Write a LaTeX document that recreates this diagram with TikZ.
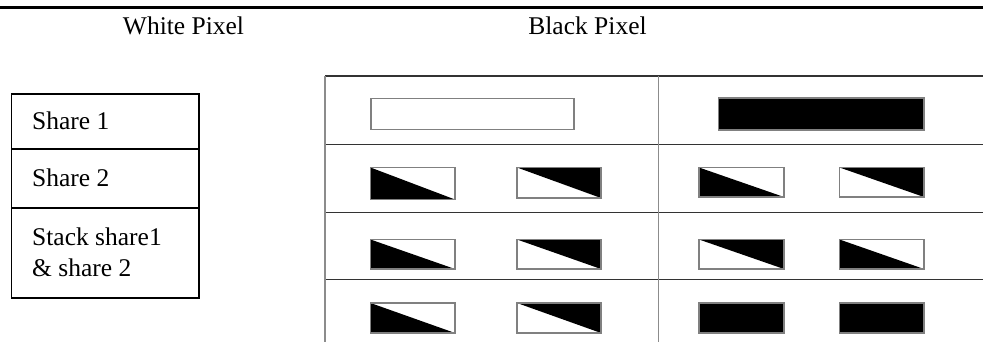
\documentclass[tikz,border=0pt]{standalone}
\usepackage{fontspec}
\setmainfont{Liberation Serif}
\begin{document}
\begin{tikzpicture}[x=1pt,y=-1pt,
  lbl/.style={inner sep=0pt,anchor=base west,font=\fontsize{25.5}{31}\selectfont},
  hdr/.style={inner sep=0pt,anchor=base,font=\fontsize{25.5}{31}\selectfont},
  tline/.style={line width=1.5pt,black},
  hline/.style={line width=1.2pt,black!80},
  vline/.style={line width=1.4pt,black!45},
  pix/.style={draw=black!50,line width=1.2pt},
  blk/.style={fill=black}]
\useasboundingbox (0,0) rectangle (983,342);
% top rule
\draw[line width=2.5pt] (0,7.5) -- (983,7.5);
% headers
\node[hdr] (wp) at (183.5,35) {White Pixel};
\node[hdr] (bp) at (587.5,35) {Black Pixel};
% left table
\draw[tline] (11.7,94) rectangle (199,298);
\draw[tline] (11.7,149) -- (199,149);
\draw[tline] (11.7,208) -- (199,208);
\node[lbl] (s1) at (32,130) {Share 1};
\node[lbl] (s2) at (32,186) {Share 2};
\node[lbl] (s3) at (32,245.7) {Stack share1};
\node[lbl] (s4) at (32,276.7) {\& share 2};
% right table
\draw[hline] (325,76) -- (983,76);
\draw[hline] (325,144.3) -- (983,144.3);
\draw[hline] (325,212.3) -- (983,212.3);
\draw[hline] (325,279.3) -- (983,279.3);
\draw[vline] (325,76) -- (325,342);
\draw[vline] (658.5,76) -- (658.5,342);
% row 1
\draw[pix] (371,98.5) rectangle (574,129.5);
\fill[black] (718.5,98) rectangle (924,130);
\draw[pix] (718.5,98) rectangle (924,130);
% triangles helpers: ll = lower-left black, ur = upper-right black
\def\ll#1#2#3#4{\fill[black] (#1,#3) -- (#2,#4) -- (#1,#4) -- cycle; \draw[pix] (#1,#3) rectangle (#2,#4);}
\def\ur#1#2#3#4{\fill[black] (#1,#3) -- (#2,#3) -- (#2,#4) -- cycle; \draw[pix] (#1,#3) rectangle (#2,#4);}
\def\fb#1#2#3#4{\fill[black] (#1,#3) rectangle (#2,#4); \draw[pix] (#1,#3) rectangle (#2,#4);}
% row 2
\ll{370.5}{455}{167.5}{199.5}
\ur{517}{601}{167.5}{198}
\ll{699}{784}{167.5}{197}
\ur{839.5}{924}{167.5}{197}
% row 3
\ll{370.5}{455}{239.5}{269}
\ur{517}{601}{239.5}{269}
\ur{699}{784}{239.5}{269}
\ll{839.5}{924}{239.5}{269}
% row 4
\ll{370.5}{455}{303}{333}
\ur{517}{601}{303}{333}
\fb{699}{784}{303}{333}
\fb{839.5}{924}{303}{333}
\end{tikzpicture}
\end{document}
